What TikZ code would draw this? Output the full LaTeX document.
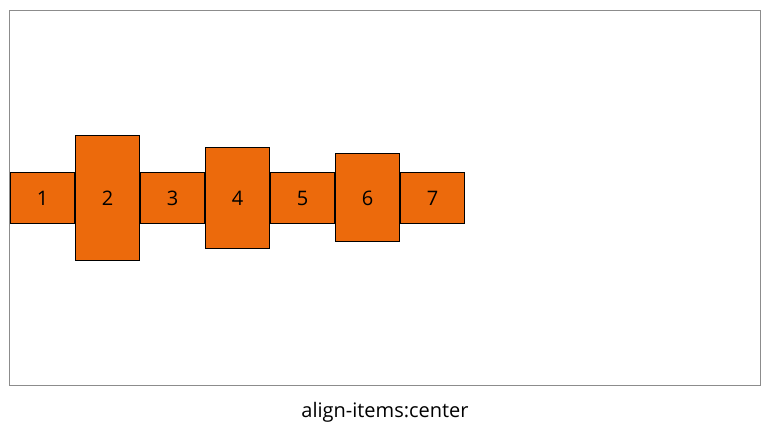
\documentclass[tikz,border=0pt]{standalone}
\usepackage{fontspec}
\setmainfont{Open Sans}
\definecolor{boxorange}{HTML}{EC6A0C}
\definecolor{framegray}{HTML}{8C8C8C}
\begin{document}
\begin{tikzpicture}[x=1pt,y=-1pt,
  item/.style={draw=black,line width=1pt,fill=boxorange},
  lbl/.style={font=\fontsize{20}{24}\selectfont,text=black,inner sep=0pt}]
\useasboundingbox (0,0) rectangle (773,428);
\draw[framegray,line width=1pt] (9.5,10.5) rectangle (760.5,385.5);
\foreach \i/\xa/\ya/\yb in {1/10/172/224, 2/75/135/261, 3/140/172/224, 4/205/147/249, 5/270/172/224, 6/335/153/242, 7/400/172/224}{
  \draw[item] (\xa+0.5,\ya+0.5) rectangle (\xa+64.5,\yb-0.5);
  \node[lbl] (n\i) at (\xa+32.5,198.5) {\i};
}
\node[lbl] (cap) at (385,412.5) {align-items:center};
\end{tikzpicture}
\end{document}
